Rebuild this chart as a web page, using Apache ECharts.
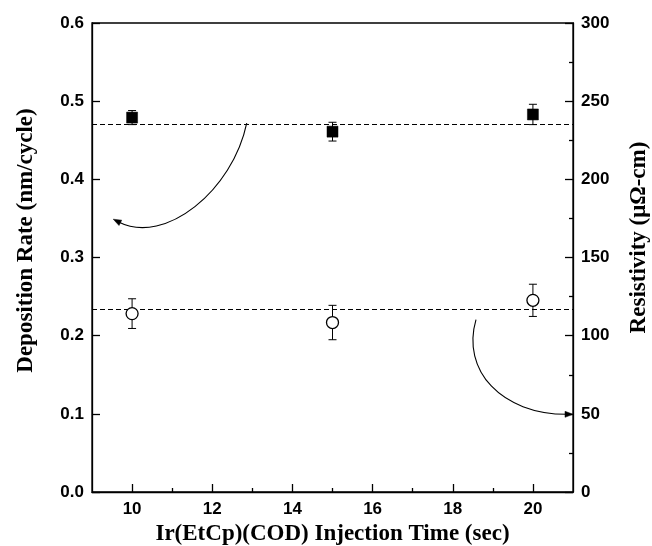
<!DOCTYPE html>
<html><head><meta charset="utf-8">
<script src="https://cdn.jsdelivr.net/npm/echarts@6/dist/echarts.min.js"></script>
<style>html,body{margin:0;padding:0;background:#fff}#c{width:652px;height:546px}</style>
</head><body><div id="c"></div>
<script>
// ---- data ----
const injectionTime = [10, 15, 20];
const depositionRate = [0.479, 0.461, 0.483];
const depositionErr = [0.009, 0.012, 0.013];
const resistivity = [114.1, 108.4, 122.6];
const resistivityErr = [9.5, 11.0, 10.3];
const depositionMean = 0.471;
const resistivityMean = 116.9;
const xMajorTicks = [10, 12, 14, 16, 18, 20];
const xMinorTicks = [11, 13, 15, 17, 19];
// annotation arrows (cubic bezier: start, ctrl1, ctrl2, end) in data units
const arrowDeposition = [[12.86, 0.472], [12.51, 0.386], [10.83, 0.315], [9.53, 0.349]];
const arrowResistivity = [[18.58, 110.3], [18.21, 77.8], [19.21, 49.7], [21.0, 49.7]];

const sans = 'Liberation Sans, Arial, sans-serif';
const serif = 'Liberation Serif, Times New Roman, serif';
const black = '#000';

function errRender(vals, errs) {
  return function (params, api) {
    const i = params.dataIndex;
    const x = injectionTime[i];
    const top = api.coord([x, vals[i] + errs[i]]);
    const bot = api.coord([x, vals[i] - errs[i]]);
    const hw = 4;
    const st = { stroke: black, lineWidth: 1 };
    return { type: 'group', children: [
      { type: 'line', shape: { x1: top[0], y1: top[1], x2: bot[0], y2: bot[1] }, style: st },
      { type: 'line', shape: { x1: top[0] - hw, y1: top[1], x2: top[0] + hw, y2: top[1] }, style: st },
      { type: 'line', shape: { x1: bot[0] - hw, y1: bot[1], x2: bot[0] + hw, y2: bot[1] }, style: st }
    ]};
  };
}
function arrowRender(pts) {
  return function (params, api) {
    const p = pts.map(q => api.coord(q));
    const [a, c1, c2, b] = p;
    const dx = b[0] - c2[0], dy = b[1] - c2[1];
    const L = Math.hypot(dx, dy) || 1;
    const ux = dx / L, uy = dy / L;
    const len = 8, w = 3;
    const base = [b[0] - ux * len, b[1] - uy * len];
    return { type: 'group', children: [
      { type: 'bezierCurve', shape: { x1: a[0], y1: a[1], cpx1: c1[0], cpy1: c1[1], cpx2: c2[0], cpy2: c2[1], x2: base[0] + ux * 2, y2: base[1] + uy * 2 },
        style: { stroke: black, lineWidth: 1.1, fill: null } },
      { type: 'polygon', shape: { points: [b, [base[0] - uy * w, base[1] + ux * w], [base[0] + uy * w, base[1] - ux * w]] },
        style: { fill: black, stroke: black, lineWidth: 0.5 } }
    ]};
  };
}

const axisLine = { show: true, onZero: false, lineStyle: { color: black, width: 1.3 } };
const nameStyle = { fontFamily: serif, fontWeight: 'bold', fontSize: 23, color: black };
const labelStyle = { fontFamily: sans, fontWeight: 'bold', fontSize: 17, color: black };
const chart = echarts.init(document.getElementById('c'), null, { renderer: 'canvas' });
chart.setOption({
  animation: false,
  backgroundColor: '#fff',
  grid: { left: 92, right: 79, top: 23, bottom: 54, containLabel: false, outerBoundsMode: 'none',
    show: true, borderColor: black, borderWidth: 1.3, backgroundColor: 'transparent' },
  xAxis: [{
    type: 'value', min: 9, max: 21,
    name: 'Ir(EtCp)(COD) Injection Time (sec)', nameLocation: 'middle', nameGap: 30,
    nameTextStyle: nameStyle,
    axisLine: axisLine,
    axisTick: { show: true, inside: true, length: 8, customValues: xMajorTicks, lineStyle: { color: black, width: 1.3 } },
    splitLine: { show: false },
    axisLabel: Object.assign({ margin: 9, customValues: xMajorTicks }, labelStyle)
  }, {
    type: 'value', min: 9, max: 21, position: 'bottom',
    axisLine: { show: false },
    axisTick: { show: true, inside: true, length: 4, customValues: xMinorTicks, lineStyle: { color: black, width: 1.3 } },
    splitLine: { show: false },
    axisLabel: { show: false }
  }],
  yAxis: [{
    type: 'value', min: 0, max: 0.6, interval: 0.1, position: 'left',
    name: 'Deposition Rate (nm/cycle)', nameLocation: 'middle', nameGap: 54, nameRotate: 90,
    nameTextStyle: Object.assign({ padding: [0, 0, 0, 34] }, nameStyle),
    axisLine: axisLine,
    axisTick: { show: true, inside: true, length: 8, lineStyle: { color: black, width: 1.3 } },
    splitLine: { show: false },
    axisLabel: Object.assign({ margin: 8, formatter: v => v.toFixed(1) }, labelStyle)
  }, {
    type: 'value', min: 0, max: 300, interval: 50, position: 'right',
    name: 'Resistivity (μΩ-cm)', nameLocation: 'middle', nameGap: 55, nameRotate: 90,
    nameTextStyle: Object.assign({ padding: [0, 0, 0, 40] }, nameStyle),
    axisLine: axisLine,
    axisTick: { show: true, inside: true, length: 8, lineStyle: { color: black, width: 1.3 } },
    minorTick: { show: true, splitNumber: 2, length: 4, lineStyle: { color: black, width: 1.3 } },
    splitLine: { show: false },
    axisLabel: Object.assign({ margin: 8 }, labelStyle)
  }],
  series: [
    { type: 'line', yAxisIndex: 0, data: [], silent: true,
      markLine: { silent: true, symbol: 'none', label: { show: false },
        lineStyle: { color: black, width: 1, type: [5, 3] },
        data: [{ yAxis: depositionMean }] } },
    { type: 'line', yAxisIndex: 1, data: [], silent: true,
      markLine: { silent: true, symbol: 'none', label: { show: false },
        lineStyle: { color: black, width: 1, type: [5, 3] },
        data: [{ yAxis: resistivityMean }] } },
    { type: 'custom', yAxisIndex: 0, renderItem: errRender(depositionRate, depositionErr),
      data: injectionTime.map((x, i) => [x, depositionRate[i]]), z: 3 },
    { type: 'custom', yAxisIndex: 1, renderItem: errRender(resistivity, resistivityErr),
      data: injectionTime.map((x, i) => [x, resistivity[i]]), z: 3 },
    { type: 'scatter', yAxisIndex: 0, symbol: 'rect', symbolSize: 11, z: 5,
      itemStyle: { color: black, borderColor: black, borderWidth: 0.5, opacity: 1 },
      data: injectionTime.map((x, i) => [x, depositionRate[i]]) },
    { type: 'scatter', yAxisIndex: 1, symbol: 'circle', symbolSize: 12, z: 5,
      itemStyle: { color: '#fff', borderColor: black, borderWidth: 1.3, opacity: 1 },
      data: injectionTime.map((x, i) => [x, resistivity[i]]) },
    { type: 'custom', yAxisIndex: 0, renderItem: arrowRender(arrowDeposition), data: [arrowDeposition[0]], z: 4, clip: false },
    { type: 'custom', yAxisIndex: 1, renderItem: arrowRender(arrowResistivity), data: [arrowResistivity[0]], z: 4, clip: false }
  ]
});
</script>
</body></html>
